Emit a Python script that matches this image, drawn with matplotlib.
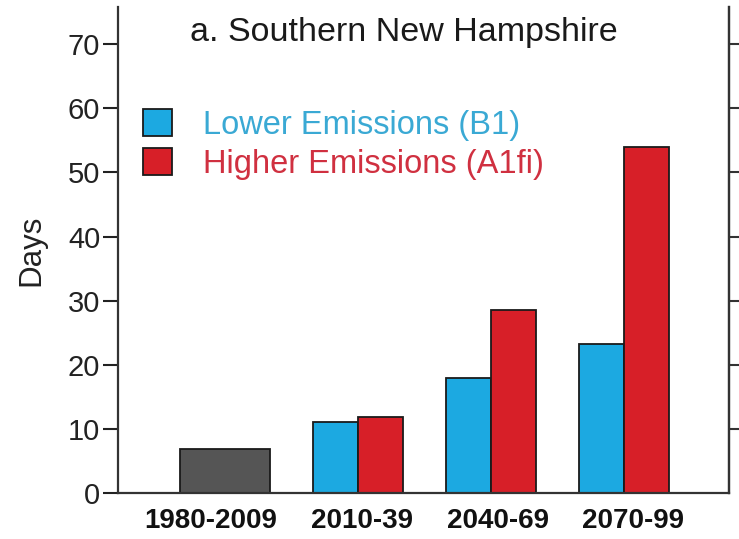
import matplotlib
matplotlib.use("Agg")
import matplotlib.pyplot as plt
import matplotlib.transforms as mtransforms
from matplotlib.patches import Patch
import numpy as np

plt.rcParams['font.family'] = ['Liberation Sans', 'DejaVu Sans']

# Number of days per period
periods = ["1980-2009", "2010-39", "2040-69", "2070-99"]
historical = 6.8
lower_b1 = [11.0, 18.0, 23.2]
higher_a1fi = [11.8, 28.6, 54.0]

yticks = [0, 10, 20, 30, 40, 50, 60, 70]

blue = "#1ca9e1"
red = "#d71f28"
gray = "#555555"
edge = "#1a1a1a"

fig = plt.figure(figsize=(7.39, 5.39), dpi=100)
ax = fig.add_axes([118 / 739, 46 / 539, (729 - 118) / 739, (532 - 46) / 539])

x = np.arange(len(periods))
w = 0.34

ax.bar(x[0], historical, width=2 * w, color=gray, edgecolor=edge, linewidth=1.3)
ax.bar(x[1:] - w / 2, lower_b1, width=w, color=blue, edgecolor=edge, linewidth=1.3)
ax.bar(x[1:] + w / 2, higher_a1fi, width=w, color=red, edgecolor=edge, linewidth=1.3)

ax.set_xlim(-0.805, 3.79)
ax.set_ylim(0, 75.8)

ax.set_yticks(yticks)
ax.set_yticklabels([str(t) for t in yticks], fontsize=21)
ax.set_xticks(x)
ax.set_xticklabels(periods, fontsize=20, fontweight="bold")
ax.tick_params(axis="y", direction="out", length=10.8, width=1.5, pad=2, colors="#222222")
ax.tick_params(axis="x", length=0, pad=11, colors="#111111")

# Period labels sit slightly spread out under their bar groups
label_shift_px = [-14, 4, 7, 9]
for lbl, dx in zip(ax.get_xticklabels(), label_shift_px):
    lbl.set_transform(lbl.get_transform() +
                      mtransforms.ScaledTranslation(dx / 100, 0, fig.dpi_scale_trans))

ax.spines["top"].set_visible(False)
for side in ("left", "right", "bottom"):
    ax.spines[side].set_linewidth(1.6)
    ax.spines[side].set_color("#333333")

# Ticks on the right spine point outward
ax2 = ax.twinx()
ax2.set_ylim(ax.get_ylim())
ax2.set_yticks(yticks[1:])
ax2.set_yticklabels([])
ax2.tick_params(axis="y", direction="out", length=7.5, width=1.5, colors="#333333")
for side in ("top", "left", "bottom"):
    ax2.spines[side].set_visible(False)
ax2.spines["right"].set_linewidth(1.6)
ax2.spines["right"].set_color("#333333")

ax.set_ylabel("Days", fontsize=22.5, color="#222222")
ax.yaxis.set_label_coords(-0.117, 0.5)

fig.text(404 / 739, 1 - 33 / 539, "a. Southern New Hampshire", fontsize=24.5,
         ha="center", va="center", color="#1a1a1a")

handles = [Patch(facecolor=blue, edgecolor=edge, linewidth=1.3),
           Patch(facecolor=red, edgecolor=edge, linewidth=1.3)]
leg = ax.legend(handles, ["Lower Emissions (B1)", "Higher Emissions (A1fi)"],
                loc="upper left", bbox_to_anchor=(143 / 739, 1 - 109 / 539),
                bbox_transform=fig.transFigure, frameon=False, fontsize=23.5,
                handlelength=0.9, handleheight=0.9, handletextpad=0.95,
                labelspacing=0.22, borderaxespad=0, borderpad=0)
for txt, c in zip(leg.get_texts(), ["#3aa9d4", "#d03040"]):
    txt.set_color(c)

fig.savefig("out.png", dpi=100)
